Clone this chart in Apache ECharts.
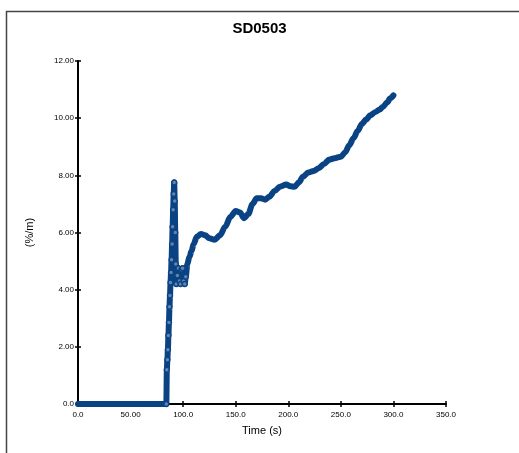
<!DOCTYPE html>
<html>
<head>
<meta charset="utf-8">
<script src="https://cdn.jsdelivr.net/npm/echarts@6/dist/echarts.min.js"></script>
<style>
html,body{margin:0;padding:0;background:#fff;}
#chart{width:519px;height:453px;}
</style>
</head>
<body>
<div id="chart"></div>
<script>
// ---- data ----
var chartTitle = 'SD0503';
var xAxisTitle = 'Time (s)';
var yAxisTitle = '(%/m)';
var timeS = [
  0, 5, 10, 15, 20, 25, 30, 35, 40, 45, 50, 55, 60, 65, 70, 75, 80, 84,
  84.5, 85, 85.5, 86, 86.5, 87, 87.5, 88, 88.5, 89, 89.5, 90, 90.5, 91, 91.5,
  92, 92.5, 93, 93.5, 94.5, 95.5, 96.5, 97.5, 98.5, 99.5, 100.5, 101.5, 102.5,
  104, 106, 108, 110, 113, 117, 121, 125, 130, 135, 140, 145, 150, 154, 158,
  162, 166, 170, 174, 178, 182, 187, 192, 198, 202, 206, 210, 214, 219, 224,
  229, 234, 239, 244, 250, 254, 258, 262, 266, 270, 274, 278, 283, 287, 290,
  294, 297, 300
];
var strainValues = [
  0, 0, 0, 0, 0, 0, 0, 0, 0, 0, 0, 0, 0, 0, 0, 0, 0, 0,
  1.2, 1.55, 1.9, 2.4, 2.85, 3.4, 3.8, 4.25, 4.6, 5.05, 5.6, 6.2, 6.8, 7.35, 7.75,
  7.1, 6.0, 4.9, 4.2, 4.5, 4.75, 4.3, 4.2, 4.7, 4.75, 4.3, 4.2, 4.45,
  4.9, 5.15, 5.35, 5.6, 5.85, 5.95, 5.9, 5.8, 5.75, 5.9, 6.2, 6.55, 6.75, 6.7, 6.5,
  6.65, 7.0, 7.2, 7.2, 7.15, 7.25, 7.45, 7.6, 7.68, 7.62, 7.6, 7.75, 7.95, 8.1, 8.15,
  8.25, 8.4, 8.55, 8.6, 8.65, 8.8, 9.05, 9.3, 9.55, 9.8, 9.95, 10.1, 10.22, 10.3, 10.4,
  10.55, 10.7, 10.8
];
var xTickValues = [0, 50, 100, 150, 200, 250, 300, 350];
var xTickLabels = ['0.0', '50.00', '100.0', '150.0', '200.0', '250.0', '300.0', '350.0'];
var yTickValues = [0, 2, 4, 6, 8, 10, 12];
var yTickLabels = ['0.0', '2.00', '4.00', '6.00', '8.00', '10.00', '12.00'];

// ---- build ----
var lineColor = '#0a4383';
var markerUntil = 103; // markers visible only where points are sparse on screen
var seriesData = timeS.map(function (t, i) {
  var item = { value: [t, strainValues[i]] };
  if (t < 84 || t > markerUntil) item.symbol = 'none';
  return item;
});
function labelFor(values, labels) {
  return function (v) {
    for (var i = 0; i < values.length; i++) if (Math.abs(values[i] - v) < 1e-9) return labels[i];
    return '';
  };
}
var font = 'Liberation Sans, Arial, sans-serif';
var axisLine = { show: true, lineStyle: { color: '#000', width: 2 } };

var chart = echarts.init(document.getElementById('chart'), null, { renderer: 'canvas' });
chart.setOption({
  animation: false,
  backgroundColor: '#fff',
  title: {
    text: chartTitle, left: 'center', top: 16,
    textStyle: { fontFamily: font, fontSize: 15, fontWeight: 'bold', color: '#000' }
  },
  graphic: [{
    type: 'rect', left: 4, top: 9, silent: true,
    shape: { width: 620, height: 600 },
    style: { fill: 'none', stroke: '#444', lineWidth: 1.5 }
  }],
  grid: { left: 78, right: 73, top: 61, bottom: 49 },
  xAxis: [{
    type: 'value', min: 0, max: 350, interval: 50,
    name: xAxisTitle, nameLocation: 'middle', nameGap: 21,
    nameTextStyle: { fontFamily: font, fontSize: 11, color: '#000' },
    axisLine: axisLine,
    axisTick: { show: true, length: 3, lineStyle: { color: '#000', width: 1.5 } },
    axisLabel: { fontFamily: font, fontSize: 8, color: '#000', margin: 7,
      formatter: labelFor(xTickValues, xTickLabels) },
    splitLine: { show: false }
  }, {
    type: 'value', min: 0, max: 350, interval: 50, position: 'bottom',
    axisLine: { show: false },
    axisTick: { show: true, inside: true, length: 3, lineStyle: { color: '#000', width: 1.5 } },
    axisLabel: { show: false }, splitLine: { show: false }
  }],
  yAxis: [{
    type: 'value', min: 0, max: 12, interval: 2,
    name: yAxisTitle, nameLocation: 'middle', nameGap: 43, nameRotate: 90,
    nameTextStyle: { fontFamily: font, fontSize: 11, color: '#000' },
    axisLine: axisLine,
    axisTick: { show: true, length: 3, lineStyle: { color: '#000', width: 1.5 } },
    axisLabel: { fontFamily: font, fontSize: 8, color: '#000', margin: 4,
      formatter: labelFor(yTickValues, yTickLabels) },
    splitLine: { show: false }
  }, {
    type: 'value', min: 0, max: 12, interval: 2, position: 'left',
    axisLine: { show: false },
    axisTick: { show: true, inside: true, length: 3, lineStyle: { color: '#000', width: 1.5 } },
    axisLabel: { show: false }, splitLine: { show: false }
  }],
  series: [{
    type: 'line',
    xAxisIndex: 0, yAxisIndex: 0,
    data: seriesData,
    showAllSymbol: true,
    smooth: 0.3, smoothMonotone: 'x',
    symbol: 'circle', symbolSize: 5,
    itemStyle: { color: '#6384b0', borderColor: lineColor, borderWidth: 1.5 },
    lineStyle: { color: lineColor, width: 6, cap: 'round', join: 'round' },
    clip: false,
    z: 5
  }]
});
</script>
</body>
</html>
